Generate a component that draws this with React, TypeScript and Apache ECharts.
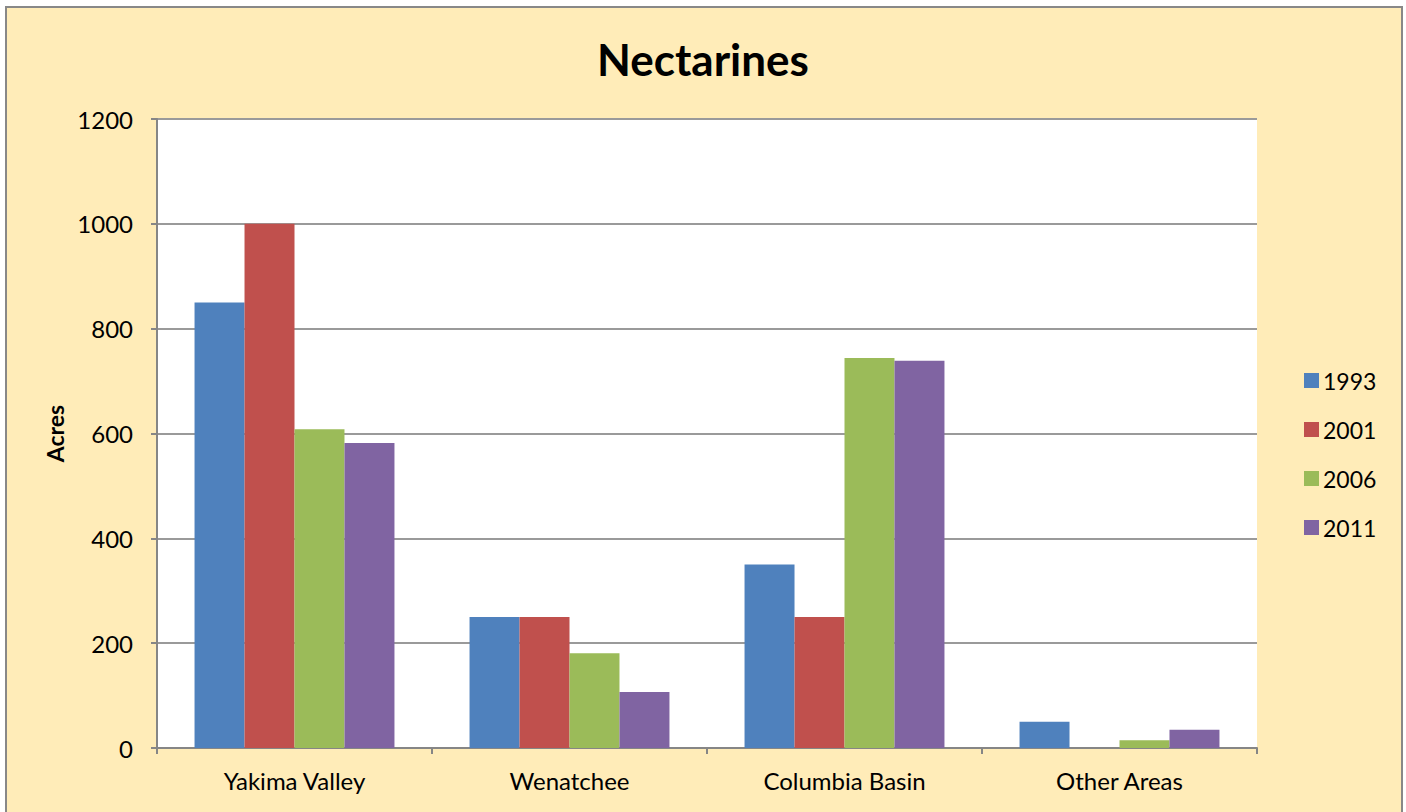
import React, { useEffect, useRef } from "react";
import * as echarts from "echarts";

const categories = ["Yakima Valley", "Wenatchee", "Columbia Basin", "Other Areas"];
const seriesNames = ["1993", "2001", "2006", "2011"];
const values1993 = [850, 250, 350, 50];
const values2001 = [1000, 250, 250, 0];
const values2006 = [608, 181, 744, 15];
const values2011 = [582, 107, 739, 35];
const colors = ["#4F81BD", "#C0504D", "#9BBB59", "#8064A2"];
const yTicks = { min: 0, max: 1200, interval: 200 };

const FONT = "Lato, 'Open Sans', sans-serif";

export default function App() {
  const ref = useRef<HTMLDivElement>(null);
  useEffect(() => {
    if (!ref.current) return;
    const chart = echarts.init(ref.current, undefined, { renderer: "svg" });
    const data = [values1993, values2001, values2006, values2011];
    chart.setOption({
      animation: false,
      backgroundColor: "#FFFFFF",
      textStyle: { fontFamily: FONT },
      graphic: [
        {
          type: "rect",
          z: -10,
          silent: true,
          shape: { x: 6, y: 7, width: 1396, height: 812 },
          style: { fill: "#FFECB8", stroke: "#888888", lineWidth: 2 },
        },
      ],
      title: {
        text: "Nectarines",
        left: "center",
        top: 32,
        textStyle: { fontFamily: FONT, fontSize: 44, fontWeight: "bold", color: "#000" },
      },
      legend: {
        orient: "vertical",
        left: 1299,
        top: 364,
        itemWidth: 15,
        itemHeight: 15,
        itemGap: 26,
        icon: "rect",
        data: seriesNames,
        textStyle: { fontFamily: FONT, fontSize: 23, color: "#000", lineHeight: 22, padding: [0, 0, 0, -1] },
      },
      grid: {
        left: 157,
        right: 149,
        top: 119,
        bottom: 64,
        show: true,
        backgroundColor: "#FFFFFF",
        borderWidth: 0,
        containLabel: false,
      },
      xAxis: {
        type: "category",
        data: categories,
        axisLine: { show: true, lineStyle: { color: "#868686", width: 2 } },
        axisTick: { show: true, length: 6, lineStyle: { color: "#868686", width: 2 } },
        axisLabel: { fontFamily: FONT, fontSize: 24, color: "#000", margin: 20 },
        splitLine: { show: false },
      },
      yAxis: {
        type: "value",
        min: yTicks.min,
        max: yTicks.max,
        interval: yTicks.interval,
        name: "Acres",
        nameLocation: "middle",
        nameGap: 87,
        nameRotate: 90,
        nameTextStyle: { fontFamily: FONT, fontSize: 23, fontWeight: "bold", color: "#000" },
        axisLine: { show: true, lineStyle: { color: "#868686", width: 2 } },
        axisTick: { show: true, length: 6, lineStyle: { color: "#868686", width: 2 } },
        axisLabel: {
          fontFamily: FONT,
          fontSize: 24,
          color: "#000",
          margin: 24,
          formatter: (v: number) => String(v),
        },
        splitLine: { show: true, lineStyle: { color: "#9A9A9A", width: 2 } },
      },
      series: seriesNames.map((name, i) => ({
        name,
        type: "bar",
        data: data[i],
        barGap: "0%",
        barCategoryGap: "27.3%",
        itemStyle: { color: colors[i] },
      })),
    });
    return () => chart.dispose();
  }, []);
  return (
    <div
      ref={ref}
      style={{ position: "fixed", left: 0, top: 0, width: 1406, height: 812 }}
    />
  );
}
